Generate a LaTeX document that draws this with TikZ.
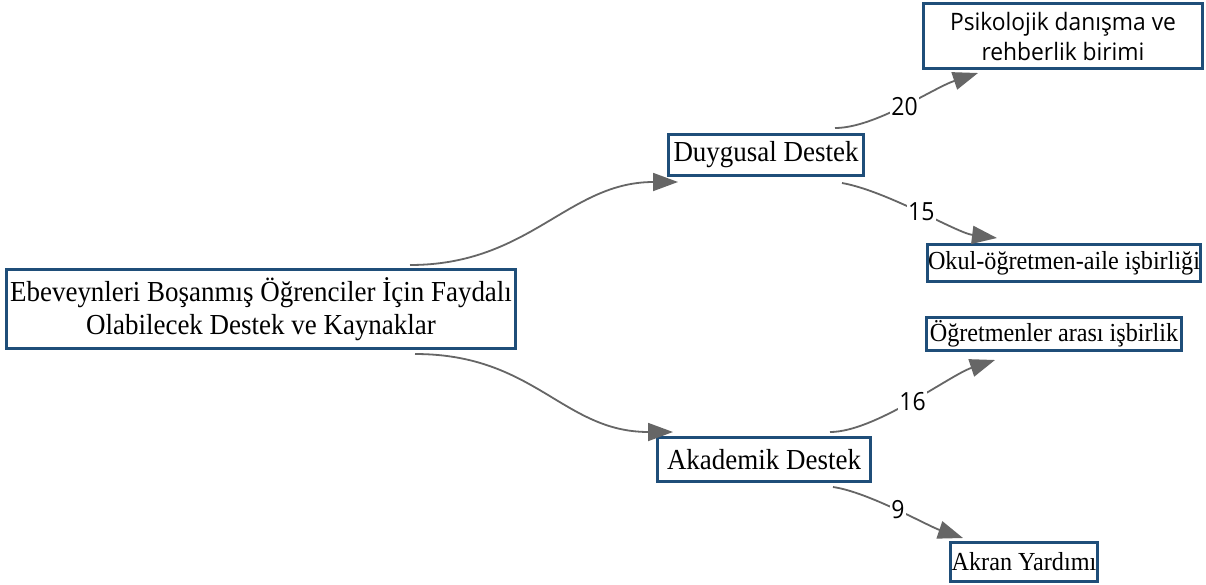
\documentclass[tikz,border=0pt]{standalone}
\usepackage{fontspec}
\setmainfont{Liberation Serif}[FakeStretch=0.93]
\newfontfamily\labelsans{Open Sans}[FakeStretch=0.92]
\newfontfamily\boxsans{Open Sans}[FakeStretch=0.95]
\usetikzlibrary{arrows.meta,calc}
\definecolor{boxblue}{HTML}{1F4E79}
\definecolor{edgegray}{HTML}{666666}
\begin{document}
\begin{tikzpicture}[x=1pt,y=-1pt,
  box/.style={draw=boxblue,line width=3pt,fill=white,inner sep=0pt,align=center},
  serifbig/.style={font=\fontsize{29}{33}\selectfont},
  serifleaf/.style={font=\fontsize{26}{30}\selectfont},
  link/.style={draw=edgegray,line width=1.8pt,-{Triangle[length=25pt,width=18pt]},color=edgegray},
  num/.style={font=\labelsans\fontsize{25}{26}\selectfont,fill=white,inner sep=1pt,text=black}]
\useasboundingbox (0,0) rectangle (1206,584);
\fill[white] (0,0) rectangle (1206,584);

\node[box,serifbig,minimum width=509pt,minimum height=79pt] (main) at (261,309)
  {Ebeveynleri Boşanmış Öğrenciler İçin Faydalı\\Olabilecek Destek ve Kaynaklar};
\node[box,serifbig,minimum width=195pt,minimum height=41pt] (duyg) at (766,155) {Duygusal Destek};
\node[box,serifbig,minimum width=213pt,minimum height=44pt] (akad) at (764,459.5) {Akademik Destek};
\node[box,font=\boxsans\fontsize{24}{30}\selectfont,minimum width=279pt,minimum height=65pt] (psik) at (1063,36)
  {Psikolojik danışma ve\\rehberlik birimi};
\node[box,serifleaf,minimum width=273pt,minimum height=37pt] (okul) at (1064,263) {Okul-öğretmen-aile işbirliği};
\node[box,serifleaf,minimum width=255pt,minimum height=33pt] (ogret) at (1054,334) {Öğretmenler arası işbirlik};
\node[box,serifleaf,minimum width=147pt,minimum height=39pt] (akran) at (1024,562) {Akran Yardımı};

\draw[link] ($(main.north)+(149,-3)$) .. controls +(120,0) and +(-110,0) .. ($(duyg.south west)+(11,5)$);
\draw[link] ($(main.south)+(154,4)$) .. controls +(120,0) and +(-110,0) .. ($(akad.north west)+(17,-4)$);

\draw[link] ($(duyg.north east)+(-30,-5)$) .. controls +(40,0) and +(-45,15) .. ($(psik.south west)+(56,3)$)
  node[num,pos=0.5] {20};
\draw[link] ($(duyg.south east)+(-23,6)$) .. controls +(45,8) and +(-40,-5) .. ($(okul.north west)+(71,-5)$)
  node[num,pos=0.5] {15};
\draw[link] ($(akad.north east)+(-42,-4)$) .. controls +(45,0) and +(-45,15) .. ($(ogret.south west)+(70,8)$)
  node[num,pos=0.5] {16};
\draw[link] ($(akad.south east)+(-39,4)$) .. controls +(35,5) and +(-35,-12) .. ($(akran.north west)+(14,-3)$)
  node[num,pos=0.5] {9};
\end{tikzpicture}
\end{document}
